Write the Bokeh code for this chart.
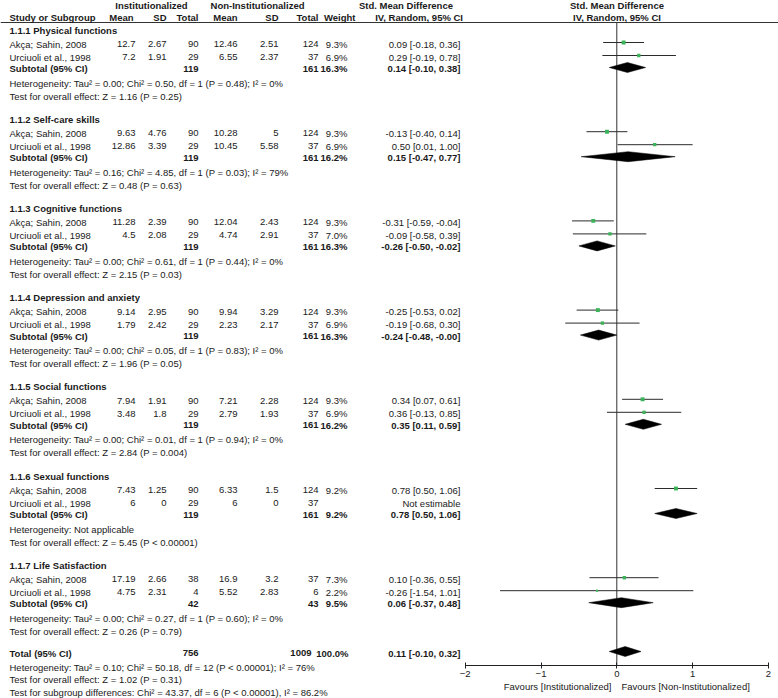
from bokeh.plotting import figure
from bokeh.models import Range1d, LinearAxis, FixedTicker
from bokeh.core.properties import value
from bokeh.embed import file_html
from bokeh.resources import INLINE

# ---------------- data ----------------
groups = ["1.1.1 Physical functions", "1.1.2 Self-care skills", "1.1.3 Cognitive functions",
          "1.1.4 Depression and anxiety", "1.1.5 Social functions", "1.1.6 Sexual functions",
          "1.1.7 Life Satisfaction"]
studies = ["Akça; Sahin, 2008", "Urciuoli et al., 1998"]

inst_mean = [[12.7, 7.2], [9.63, 12.86], [11.28, 4.5], [9.14, 1.79], [7.94, 3.48], [7.43, 6], [17.19, 4.75]]
inst_sd = [[2.67, 1.91], [4.76, 3.39], [2.39, 2.08], [2.95, 2.42], [1.91, 1.8], [1.25, 0], [2.66, 2.31]]
inst_n = [[90, 29], [90, 29], [90, 29], [90, 29], [90, 29], [90, 29], [38, 4]]
non_mean = [[12.46, 6.55], [10.28, 10.45], [12.04, 4.74], [9.94, 2.23], [7.21, 2.79], [6.33, 6], [16.9, 5.52]]
non_sd = [[2.51, 2.37], [5, 5.58], [2.43, 2.91], [3.29, 2.17], [2.28, 1.93], [1.5, 0], [3.2, 2.83]]
non_n = [[124, 37], [124, 37], [124, 37], [124, 37], [124, 37], [124, 37], [37, 6]]
weight = [[9.3, 6.9], [9.3, 6.9], [9.3, 7.0], [9.3, 6.9], [9.3, 6.9], [9.2, None], [7.3, 2.2]]
smd = [[0.09, 0.29], [-0.13, 0.50], [-0.31, -0.09], [-0.25, -0.19], [0.34, 0.36], [0.78, None], [0.10, -0.26]]
smd_lo = [[-0.18, -0.19], [-0.40, 0.01], [-0.59, -0.58], [-0.53, -0.68], [0.07, -0.13], [0.50, None], [-0.36, -1.54]]
smd_hi = [[0.36, 0.78], [0.14, 1.00], [-0.04, 0.39], [0.02, 0.30], [0.61, 0.85], [1.06, None], [0.55, 1.01]]

sub_n1 = [119, 119, 119, 119, 119, 119, 42]
sub_n2 = [161, 161, 161, 161, 161, 161, 43]
sub_w = [16.3, 16.2, 16.3, 16.3, 16.2, 9.2, 9.5]
sub_smd = [0.14, 0.15, -0.26, -0.24, 0.35, 0.78, 0.06]
sub_lo = [-0.10, -0.47, -0.50, -0.48, 0.11, 0.50, -0.37]
sub_hi = [0.38, 0.77, -0.02, -0.0, 0.59, 1.06, 0.48]
sub_het = ["Heterogeneity: Tau² = 0.00; Chi² = 0.50, df = 1 (P = 0.48); I² = 0%",
           "Heterogeneity: Tau² = 0.16; Chi² = 4.85, df = 1 (P = 0.03); I² = 79%",
           "Heterogeneity: Tau² = 0.00; Chi² = 0.61, df = 1 (P = 0.44); I² = 0%",
           "Heterogeneity: Tau² = 0.00; Chi² = 0.05, df = 1 (P = 0.83); I² = 0%",
           "Heterogeneity: Tau² = 0.00; Chi² = 0.01, df = 1 (P = 0.94); I² = 0%",
           "Heterogeneity: Not applicable",
           "Heterogeneity: Tau² = 0.00; Chi² = 0.27, df = 1 (P = 0.60); I² = 0%"]
sub_test = ["Test for overall effect: Z = 1.16 (P = 0.25)",
            "Test for overall effect: Z = 0.48 (P = 0.63)",
            "Test for overall effect: Z = 2.15 (P = 0.03)",
            "Test for overall effect: Z = 1.96 (P = 0.05)",
            "Test for overall effect: Z = 2.84 (P = 0.004)",
            "Test for overall effect: Z = 5.45 (P < 0.00001)",
            "Test for overall effect: Z = 0.26 (P = 0.79)"]

total_n1, total_n2, total_w = 756, 1009, 100.0
total_smd, total_lo, total_hi = 0.11, -0.10, 0.32
total_texts = ["Heterogeneity: Tau² = 0.10; Chi² = 50.18, df = 12 (P < 0.00001); I² = 76%",
               "Test for overall effect: Z = 1.02 (P = 0.31)",
               "Test for subgroup differences: Chi² = 43.37, df = 6 (P < 0.00001), I² = 86.2%"]
ticks = [-2, -1, 0, 1, 2]
favours = ["Favours [Institutionalized]", "Favours [Non-Institutionalized]"]

# ---------------- layout ----------------
FONT = "Liberation Sans"
FS = "9.5px"
TXT = "#1a1a1a"
GREEN = "#3cb35a"
W, H = 778, 698

p = figure(width=W, height=H, output_backend="svg", toolbar_location=None,
           x_range=Range1d(0, W), y_range=Range1d(H, 0),
           x_axis_type=None, y_axis_type=None, min_border=0)
p.outline_line_color = None
p.background_fill_color = "white"
# forest plot scale: 0 at x=616.3, 75.8 px per unit
X0, PX = 616.3, 75.8
p.extra_x_ranges = {"smd": Range1d((0 - X0) / PX, (W - X0) / PX)}

texts = {}  # (align, style) -> lists


def put(x, y, s, align="left", style="normal"):
    d = texts.setdefault((align, style), {"x": [], "y": [], "t": []})
    d["x"].append(x)
    d["y"].append(y)
    d["t"].append(s)


def fmt(v):
    return f"{v:g}"


def ci(s, l, h):
    return f"{s:.2f} [{l:.2f}, {h:.2f}]"


# column right edges
X_NAME, X_M1, X_S1, X_N1, X_M2, X_S2, X_N2, X_W, X_CI = 9, 135, 166, 198, 237, 278, 318, 347, 460

# header
put(151, 5, "Institutionalized", "center", "bold")
put(257, 5, "Non-Institutionalized", "center", "bold")
put(405.5, 5, "Std. Mean Difference", "center", "bold")
put(616.5, 5, "Std. Mean Difference", "center", "bold")
put(X_NAME, 17, "Study or Subgroup", "left", "bold")
for xx, s in [(X_M1 - 2, "Mean"), (X_S1, "SD"), (X_N1, "Total"), (X_M2, "Mean"), (X_S2, "SD"),
              (X_N2, "Total"), (355, "Weight"), (462.5, "IV, Random, 95% CI")]:
    put(xx, 17, s, "right", "bold")
put(616.5, 17, "IV, Random, 95% CI", "center", "bold")
p.segment(x0=[0], y0=[22], x1=[W], y1=[22], line_color="#333333", line_width=1)

ci_x0, ci_x1, ci_y, pt_x, pt_y, pt_s = [], [], [], [], [], []
dia_xs, dia_ys = [], []

for g, gname in enumerate(groups):
    hb = 29.5 + 89.2 * g
    put(X_NAME, hb, gname, "left", "bold")
    for k in range(2):
        y = hb + 14 + 13 * k
        put(X_NAME, y, studies[k])
        put(X_M1, y, fmt(inst_mean[g][k]), "right")
        put(X_S1, y, fmt(inst_sd[g][k]), "right")
        put(X_N1, y, fmt(inst_n[g][k]), "right")
        put(X_M2, y, fmt(non_mean[g][k]), "right")
        put(X_S2, y, fmt(non_sd[g][k]), "right")
        put(X_N2, y, fmt(non_n[g][k]), "right")
        if smd[g][k] is None:
            put(X_CI, y, "Not estimable", "right")
        else:
            put(X_W, y, f"{weight[g][k]:.1f}%", "right")
            put(X_CI, y, ci(smd[g][k], smd_lo[g][k], smd_hi[g][k]), "right")
            ci_x0.append(smd_lo[g][k]); ci_x1.append(smd_hi[g][k]); ci_y.append(y - 1.5)
            pt_x.append(smd[g][k]); pt_y.append(y - 1.5); pt_s.append(1.6 + 0.25 * weight[g][k])
    ys = hb + 38.5
    put(X_NAME, ys, "Subtotal (95% CI)", "left", "bold")
    put(X_N1, ys, fmt(sub_n1[g]), "right", "bold")
    put(X_N2, ys, fmt(sub_n2[g]), "right", "bold")
    put(X_W, ys, f"{sub_w[g]:.1f}%", "right", "bold")
    put(X_CI, ys, ci(sub_smd[g], sub_lo[g], sub_hi[g]), "right", "bold")
    dia_xs.append([sub_lo[g], sub_smd[g], sub_hi[g], sub_smd[g]])
    dia_ys.append([ys - 1, ys - 6, ys - 1, ys + 4])
    put(X_NAME, hb + 53, sub_het[g])
    put(X_NAME, hb + 66, sub_test[g])

yt = 652.5
put(X_NAME, yt, "Total (95% CI)", "left", "bold")
put(X_N1, yt, fmt(total_n1), "right", "bold")
put(311, yt, fmt(total_n2), "right", "bold")
put(X_W + 1, yt, f"{total_w:.1f}%", "right", "bold")
put(X_CI, yt, ci(total_smd, total_lo, total_hi), "right", "bold")
dia_xs.append([total_lo, total_smd, total_hi, total_smd])
dia_ys.append([yt - 1.5, yt - 6.5, yt - 1.5, yt + 3.5])
for i, s in enumerate(total_texts):
    put(X_NAME, yt + 14.5 + 12.3 * i, s)

put(611, 686, favours[0], "right")
put(621, 686, favours[1], "left")

# zero line
p.segment(x0=[0], y0=[22], x1=[0], y1=[665], x_range_name="smd", line_color="#333333", line_width=1)
# CIs
p.segment(x0=ci_x0, y0=ci_y, x1=ci_x1, y1=ci_y, x_range_name="smd", line_color="#2b2b2b", line_width=1)
p.scatter(x=pt_x, y=pt_y, size=pt_s, marker="square", x_range_name="smd",
          fill_color=GREEN, line_color=None)
p.patches(xs=dia_xs, ys=dia_ys, x_range_name="smd", fill_color="black", line_color="black", line_width=0.5)

for (align, style), d in texts.items():
    p.text(x=d["x"], y=d["y"], text=d["t"], text_align=align, text_baseline="middle",
           text_font=value(FONT), text_font_size=FS, text_font_style=style, text_color=TXT)

ax = LinearAxis(x_range_name="smd", fixed_location=665, bounds=(-2, 2), ticker=FixedTicker(ticks=ticks))
ax.major_tick_in = 3
ax.major_tick_out = 3
ax.minor_tick_in = 0
ax.minor_tick_out = 0
ax.axis_line_color = "#222222"
ax.major_tick_line_color = "#222222"
ax.major_label_text_font = FONT
ax.major_label_text_font_size = FS
ax.major_label_text_color = TXT
ax.major_label_standoff = 2
p.add_layout(ax, "below")

open("out.html", "w").write(file_html(p, INLINE))
